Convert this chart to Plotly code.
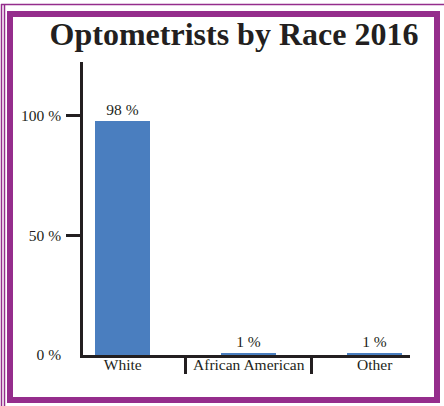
import plotly.graph_objects as go

# data
races = ["White", "African American", "Other"]
percent = [98, 1, 1]
y_ticks = [0, 50, 100]
y_tick_text = ["0 %", "50 %", "100 %"]

ink = "#231f20"
bar_blue = "#4a7ebf"
purple = "#952d8c"
serif = "Liberation Serif, Times New Roman, serif"

# plot area in pixels (used to place the frame around the figure)
L, R, T, B = 83, 410, 62, 355
W, H = 444, 406


def px_x(v):
    return (v - L) / (R - L)


def px_y(v):
    return (B - v) / (B - T)


fig = go.Figure()

fig.add_trace(go.Bar(
    x=races,
    y=percent,
    width=0.437,
    marker=dict(color=bar_blue, line=dict(width=0)),
    text=percent,
    texttemplate="%{y} %",
    textposition="outside",
    textfont=dict(family=serif, size=15.5, color=ink),
    cliponaxis=False,
    hoverinfo="skip",
))

# empty trace so the overlay axis with the tick marks gets drawn
fig.add_trace(go.Scatter(x=[], y=[], yaxis="y2", showlegend=False))

# purple frame
frame = [
    dict(type="rect", x0=px_x(10), x1=px_x(437), y0=px_y(14), y1=px_y(400),
         line=dict(color=purple, width=6)),
    dict(type="line", x0=px_x(1), x1=px_x(444), y0=px_y(4.5), y1=px_y(4.5),
         line=dict(color=purple, width=1.5)),
    dict(type="line", x0=px_x(1.5), x1=px_x(1.5), y0=px_y(4), y1=px_y(406),
         line=dict(color=purple, width=1.5)),
    dict(type="line", x0=px_x(4.5), x1=px_x(4.5), y0=px_y(4), y1=px_y(406),
         line=dict(color=purple, width=1.5)),
]
for s in frame:
    s.update(xref="paper", yref="paper", layer="above")

fig.update_layout(
    width=W,
    height=H,
    margin=dict(l=L, r=W - R, t=T, b=H - B),
    paper_bgcolor="white",
    plot_bgcolor="white",
    showlegend=False,
    bargap=0,
    font=dict(family=serif, size=15.5, color=ink),
    title=dict(
        text="<b>Optometrists by Race 2016</b>",
        font=dict(family=serif, size=32, color=ink),
        x=234 / W, xref="container", xanchor="center",
        y=1 - 34 / H, yref="container", yanchor="middle",
    ),
    xaxis=dict(
        type="category",
        range=[-0.316, 2.28],
        showline=True, linecolor=ink, linewidth=2.5,
        ticks="outside", tickson="boundaries", ticklen=16, tickwidth=2.5, tickcolor=ink,
        ticklabelstandoff=-6,
        tickfont=dict(family=serif, size=15.5, color=ink),
        showgrid=False, zeroline=False, fixedrange=True,
    ),
    yaxis=dict(
        range=[0, 122.5],
        tickvals=y_ticks, ticktext=y_tick_text,
        showline=True, linecolor=ink, linewidth=2.5,
        ticks="outside", ticklen=16, tickwidth=2.5, tickcolor="rgba(0,0,0,0)",
        tickfont=dict(family=serif, size=15.5, color=ink),
        showgrid=False, zeroline=False, fixedrange=True,
    ),
    yaxis2=dict(
        overlaying="y", side="left",
        range=[0, 122.5],
        tickvals=y_ticks[1:],
        ticks="outside", ticklen=16, tickwidth=2.5, tickcolor=ink,
        showticklabels=False, showline=False,
        showgrid=False, zeroline=False, fixedrange=True,
    ),
    shapes=frame,
)

# the page body has a default 8px margin; drop it so the chart sits at the corner
fig.write_html("out.html", config={"displayModeBar": False},
               post_script="document.body.style.margin='0';")
